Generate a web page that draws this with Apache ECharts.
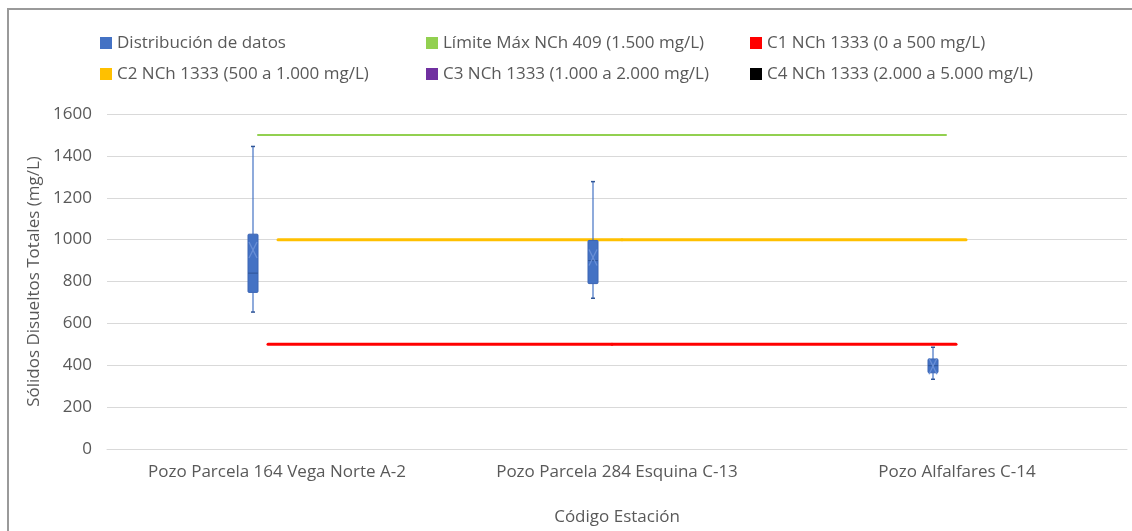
<!DOCTYPE html>
<html>
<head>
<meta charset="utf-8">
<script src="https://cdn.jsdelivr.net/npm/echarts@6/dist/echarts.min.js"></script>
<style>
  html, body { margin: 0; padding: 0; background: #ffffff; }
  #chart { width: 1132px; height: 531px; }
</style>
</head>
<body>
<div id="chart"></div>
<script>
// Stations on the x axis
const stations = [
  'Pozo Parcela 164 Vega Norte A-2',
  'Pozo Parcela 284 Esquina C-13',
  'Pozo Alfalfares C-14'
];

// Box statistics per station: min, Q1, median, Q3, max, mean (mg/L)
const tdsMin    = [654, 720, 333];
const tdsQ1     = [748, 790, 364];
const tdsMedian = [840, 900, 398];
const tdsQ3     = [1026, 996, 430];
const tdsMax    = [1445, 1277, 486];
const tdsMean   = [950, 915, 395];

// Reference limits (mg/L), one value per station
const limitNCh409 = [1500, 1500, 1500];
const limitC1 = [500, 500, 500];
const limitC2 = [1000, 1000, 1000];
const limitC3 = [2000, 2000, 2000];
const limitC4 = [5000, 5000, 5000];

// Y axis ticks
const yMin = 0, yMax = 1600, yStep = 200;

const names = {
  box: 'Distribución de datos',
  nch409: 'Límite Máx NCh 409 (1.500 mg/L)',
  c1: 'C1 NCh 1333 (0 a 500 mg/L)',
  c2: 'C2 NCh 1333 (500 a 1.000 mg/L)',
  c3: 'C3 NCh 1333 (1.000 a 2.000 mg/L)',
  c4: 'C4 NCh 1333 (2.000 a 5.000 mg/L)'
};

const colors = {
  box: '#4472C4', nch409: '#92D050', c1: '#FF0000',
  c2: '#FFC000', c3: '#7030A0', c4: '#000000'
};

// Horizontal pixel slot of each series inside a category band
const slot = { box: -24, nch409: -15, c1: -5, c2: 5, c3: 15, c4: 25 };

const FONT = 'Open Sans';
const FS = 17;
const TEXT = '#595959';

const boxData = stations.map((s, i) =>
  [i, tdsMin[i], tdsQ1[i], tdsMedian[i], tdsQ3[i], tdsMax[i], tdsMean[i]]);

function renderBox(params, api) {
  const i = api.value(0);
  const x = api.coord([i, 0])[0] + slot.box;
  const y = v => api.coord([i, v])[1];
  const yLo = y(api.value(1)), yQ1 = y(api.value(2)), yMed = y(api.value(3));
  const yQ3 = y(api.value(4)), yHi = y(api.value(5)), yMean = y(api.value(6));
  const hw = 5, cap = 2, mk = 4;
  const wStyle = { stroke: '#4472C4', lineWidth: 1.2 };
  return {
    type: 'group',
    children: [
      { type: 'line', shape: { x1: x, y1: yHi, x2: x, y2: yQ3 }, style: wStyle },
      { type: 'line', shape: { x1: x, y1: yQ1, x2: x, y2: yLo }, style: wStyle },
      { type: 'line', shape: { x1: x - cap, y1: yHi, x2: x + cap, y2: yHi }, style: { stroke: '#2F5597', lineWidth: 1.5 } },
      { type: 'line', shape: { x1: x - cap, y1: yLo, x2: x + cap, y2: yLo }, style: { stroke: '#2F5597', lineWidth: 1.5 } },
      { type: 'rect', shape: { x: x - hw, y: yQ3, width: hw * 2, height: yQ1 - yQ3, r: 1 },
        style: { fill: '#4472C4', stroke: '#3A64B3', lineWidth: 1 } },
      { type: 'line', shape: { x1: x - hw, y1: yMed, x2: x + hw, y2: yMed }, style: { stroke: '#2F5597', lineWidth: 1 } },
      { type: 'line', shape: { x1: x - mk, y1: yMean - mk * 2, x2: x + mk, y2: yMean + mk * 2 }, style: { stroke: '#6A90D6', lineWidth: 1.2 } },
      { type: 'line', shape: { x1: x + mk, y1: yMean - mk * 2, x2: x - mk, y2: yMean + mk * 2 }, style: { stroke: '#6A90D6', lineWidth: 1.2 } }
    ]
  };
}

// Line joining the station values of a limit, drawn in its own slot
function limitSeries(key, values, width) {
  const off = slot[key];
  const last = values.length - 1;
  return {
    name: names[key],
    type: 'custom',
    clip: true,
    itemStyle: { color: colors[key] },
    encode: { x: 0, y: 1 },
    data: values.map((v, i) => [i, v]),
    renderItem(params, api) {
      const i = api.value(0);
      if (i >= last) return { type: 'group', children: [] };
      const p0 = api.coord([i, api.value(1)]);
      const p1 = api.coord([i + 1, values[i + 1]]);
      const ext0 = i === 0 ? 4 : 0;
      const ext1 = i + 1 === last ? 4 : 0;
      return {
        type: 'line',
        shape: { x1: p0[0] + off - ext0, y1: p0[1], x2: p1[0] + off + ext1, y2: p1[1] },
        style: { stroke: colors[key], lineWidth: width, lineCap: 'round' }
      };
    }
  };
}

function legendColumn(left, items) {
  return {
    orient: 'vertical', left: left, top: 29,
    itemWidth: 12, itemHeight: 12, itemGap: 13, icon: 'rect',
    data: items,
    textStyle: { fontFamily: FONT, fontSize: FS, color: TEXT, padding: [0, 0, 0, 0], lineHeight: 18 }
  };
}

const chart = echarts.init(document.getElementById('chart'), null, { renderer: 'canvas' });
chart.setOption({
  backgroundColor: '#ffffff',
  animation: false,
  textStyle: { fontFamily: FONT },
  graphic: [{
    type: 'polyline',
    shape: { points: [[8, 531], [8, 9], [1132, 9]] },
    style: { stroke: '#9a9a9a', lineWidth: 2, fill: null }
  }],
  legend: [
    legendColumn(95, [names.box, names.c2]),
    legendColumn(421, [names.nch409, names.c3]),
    legendColumn(745, [names.c1, names.c4])
  ],
  grid: { left: 107, right: 5, top: 114, bottom: 77 },
  xAxis: {
    type: 'category',
    data: stations,
    boundaryGap: true,
    axisLine: { lineStyle: { color: '#d9d9d9' } },
    axisTick: { show: false },
    axisLabel: { fontFamily: FONT, fontSize: FS, color: TEXT, margin: 15, interval: 0 },
    name: 'Código Estación',
    nameLocation: 'middle',
    nameGap: 60,
    nameTextStyle: { fontFamily: FONT, fontSize: FS, color: TEXT }
  },
  yAxis: {
    type: 'value',
    min: yMin, max: yMax, interval: yStep,
    axisLine: { show: false },
    axisTick: { show: false },
    splitLine: { lineStyle: { color: '#d9d9d9' } },
    axisLabel: { fontFamily: FONT, fontSize: FS, color: TEXT, margin: 15, formatter: v => String(v) },
    name: 'Sólidos Disueltos Totales (mg/L)',
    nameLocation: 'middle',
    nameGap: 64,
    nameRotate: 90,
    nameTextStyle: { fontFamily: FONT, fontSize: FS, color: TEXT }
  },
  series: [
    {
      name: names.box,
      type: 'custom',
      clip: true,
      itemStyle: { color: colors.box },
      encode: { x: 0, y: [1, 2, 3, 4, 5] },
      data: boxData,
      renderItem: renderBox,
      z: 3
    },
    limitSeries('nch409', limitNCh409, 2),
    limitSeries('c1', limitC1, 3),
    limitSeries('c2', limitC2, 3),
    limitSeries('c3', limitC3, 3),
    limitSeries('c4', limitC4, 3)
  ]
});
</script>
</body>
</html>
